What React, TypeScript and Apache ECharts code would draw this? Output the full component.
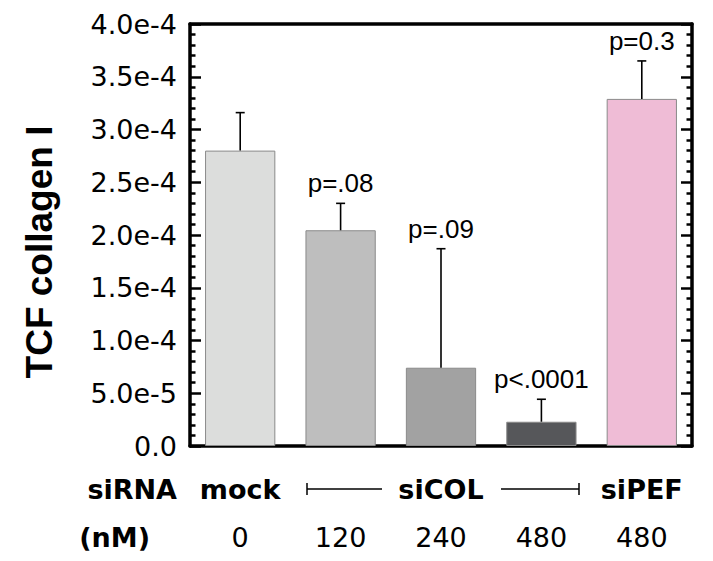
import React, { useEffect, useRef } from "react";
import * as echarts from "echarts";

const categories = ["mock 0", "siCOL 120", "siCOL 240", "siCOL 480", "siPEF 480"];
const sirnaLabels = ["mock", "", "siCOL", "", "siPEF"];
const doseLabels = ["0", "120", "240", "480", "480"];
const meanValues = [2.8e-4, 2.045e-4, 0.742e-4, 0.23e-4, 3.29e-4];
const errorTops = [3.16e-4, 2.3e-4, 1.87e-4, 0.443e-4, 3.65e-4];
const pLabels = ["", "p=.08", "p=.09", "p<.0001", "p=0.3"];
const barColors = ["#dcdddc", "#bebebe", "#a2a2a2", "#56575a", "#efbcd6"];
const yTickLabels = ["0.0", "5.0e-5", "1.0e-4", "1.5e-4", "2.0e-4", "2.5e-4", "3.0e-4", "3.5e-4", "4.0e-4"];

const AX = "#000";
const LABEL_FONT = '"DejaVu Sans", "Liberation Sans", Arial, sans-serif';
const ARIAL = '"Liberation Sans", Arial, Helvetica, sans-serif';

export default function App() {
  const ref = useRef<HTMLDivElement>(null);
  useEffect(() => {
    if (!ref.current) return;
    const chart = echarts.init(ref.current, undefined, { renderer: "svg" });
    const frameLine = { show: true, onZero: false, lineStyle: { color: AX, width: 3.5 } };
    const hiddenLine = { show: false, onZero: false };
    const yCommon = {
      type: "value",
      min: 0,
      max: 4e-4,
      interval: 5e-5,
      splitLine: { show: false },
      axisLine: frameLine,
      axisTick: { show: true, inside: true, length: 11, lineStyle: { color: AX, width: 2.5 } },
      minorTick: { show: true, splitNumber: 5, length: 5.5, lineStyle: { color: AX, width: 2.5 } },
      minorSplitLine: { show: false },
    };
    chart.setOption({
      animation: false,
      backgroundColor: "#fff",
      grid: { left: 190, right: 21, top: 24, bottom: 115 },
      xAxis: [
        {
          type: "category",
          data: categories,
          position: "bottom",
          axisLine: frameLine,
          axisTick: { show: false },
          axisLabel: { show: false },
        },
        {
          type: "category",
          data: sirnaLabels,
          position: "bottom",
          offset: 43,
          axisLine: hiddenLine,
          axisTick: { show: false },
          axisLabel: {
            interval: 0,
            margin: 0,
            verticalAlign: "middle",
            color: "#000",
            fontFamily: LABEL_FONT,
            fontWeight: "bold",
            fontSize: 27,
          },
          name: "siRNA",
          nameLocation: "start",
          nameGap: 13,
          nameTextStyle: { color: "#000", fontFamily: LABEL_FONT, fontWeight: "bold", fontSize: 27, verticalAlign: "middle" },
        },
        {
          type: "category",
          data: doseLabels,
          position: "bottom",
          offset: 91,
          axisLine: hiddenLine,
          axisTick: { show: false },
          axisLabel: {
            interval: 0,
            margin: 0,
            verticalAlign: "middle",
            color: "#000",
            fontFamily: LABEL_FONT,
            fontSize: 27,
          },
          name: "(nM)",
          nameLocation: "start",
          nameGap: 40,
          nameTextStyle: { color: "#000", fontFamily: LABEL_FONT, fontWeight: "bold", fontSize: 27, verticalAlign: "middle" },
        },
        {
          type: "category",
          data: categories,
          position: "top",
          axisLine: frameLine,
          axisTick: { show: false },
          axisLabel: { show: false },
        },
      ],
      yAxis: [
        {
          ...yCommon,
          position: "left",
          axisLabel: {
            margin: 13,
            color: "#000",
            fontFamily: LABEL_FONT,
            fontSize: 27,
            formatter: (_v: number, i: number) => yTickLabels[i] ?? "",
          },
        },
        {
          ...yCommon,
          position: "right",
          axisLabel: { show: false },
        },
      ],
      graphic: [
        {
          type: "text",
          x: 39,
          y: 252,
          rotation: Math.PI / 2,
          style: {
            text: "TCF collagen I",
            fill: "#000",
            fontFamily: ARIAL,
            fontWeight: "bold",
            fontSize: 37,
            align: "center",
            verticalAlign: "middle",
          },
        },
        { type: "line", shape: { x1: 307, y1: 489, x2: 382, y2: 489 }, style: { stroke: "#000", lineWidth: 1.5 } },
        { type: "line", shape: { x1: 307, y1: 483, x2: 307, y2: 495 }, style: { stroke: "#000", lineWidth: 1.5 } },
        { type: "line", shape: { x1: 501, y1: 489, x2: 579, y2: 489 }, style: { stroke: "#000", lineWidth: 1.5 } },
        { type: "line", shape: { x1: 579, y1: 483, x2: 579, y2: 495 }, style: { stroke: "#000", lineWidth: 1.5 } },
      ],
      series: [
        {
          type: "bar",
          xAxisIndex: 0,
          yAxisIndex: 0,
          barWidth: "70%",
          data: meanValues.map((v, i) => ({
            value: v,
            itemStyle: { color: barColors[i], borderColor: "#8a8a8a", borderWidth: 1 },
          })),
        },
        {
          type: "custom",
          xAxisIndex: 0,
          yAxisIndex: 0,
          z: 5,
          data: meanValues.map((v, i) => [i, v, errorTops[i]]),
          renderItem: (params: any, api: any) => {
            const i = api.value(0);
            const top = api.coord([i, api.value(1)]);
            const et = api.coord([i, api.value(2)]);
            const lbl = pLabels[params.dataIndex];
            const children: any[] = [
              { type: "line", shape: { x1: top[0], y1: top[1], x2: et[0], y2: et[1] }, style: { stroke: "#000", lineWidth: 1.6 } },
              { type: "line", shape: { x1: et[0] - 4.5, y1: et[1], x2: et[0] + 4.5, y2: et[1] }, style: { stroke: "#000", lineWidth: 1.6 } },
            ];
            if (lbl) {
              children.push({
                type: "text",
                x: et[0],
                y: et[1] - 20,
                style: {
                  text: lbl,
                  fill: "#000",
                  fontFamily: ARIAL,
                  fontSize: 26,
                  align: "center",
                  verticalAlign: "middle",
                },
              });
            }
            return { type: "group", children };
          },
        },
      ],
    });
    return () => chart.dispose();
  }, []);
  return (
    <div
      ref={ref}
      style={{ position: "fixed", left: 0, top: 0, width: 713, height: 561, background: "#fff" }}
    />
  );
}
